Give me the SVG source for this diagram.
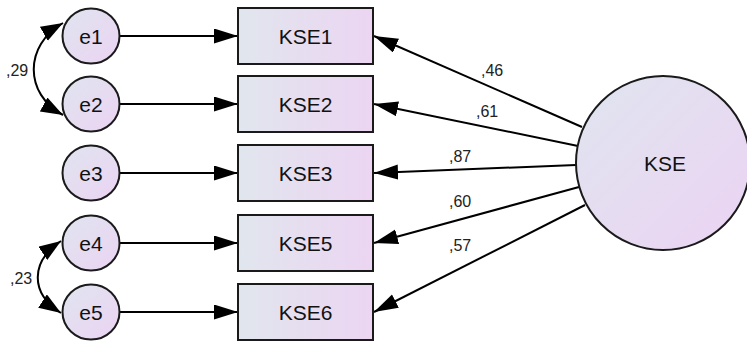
<svg xmlns="http://www.w3.org/2000/svg" width="747" height="345" viewBox="0 0 747 345">
<defs>
<linearGradient id="gRect" x1="0" y1="0" x2="1" y2="0">
<stop offset="0" stop-color="#e1e6ee"/>
<stop offset="1" stop-color="#ecd5f2"/>
</linearGradient>
<linearGradient id="gEll" x1="0" y1="0" x2="1" y2="1">
<stop offset="0" stop-color="#dfe5ef"/>
<stop offset="1" stop-color="#ecd3f3"/>
</linearGradient>
<marker id="arr" markerUnits="userSpaceOnUse" markerWidth="26" markerHeight="16" refX="24" refY="7.5" orient="auto">
<path d="M0,0 L24,7.5 L0,15 Z" fill="#000"/>
</marker>
<marker id="arrc" markerUnits="userSpaceOnUse" markerWidth="24" markerHeight="18" refX="22" refY="8" orient="auto-start-reverse">
<path d="M0,0 L22,8 L0,16 Z" fill="#000"/>
</marker>
<style>
.box{fill:url(#gRect);stroke:#1a1a1a;stroke-width:2}
.ell{fill:url(#gEll);stroke:#1a1a1a;stroke-width:2}
.lbl{font-family:"Liberation Sans",Arial,sans-serif;font-size:21px;fill:#111;text-anchor:middle}
.num{font-family:"Liberation Sans",Arial,sans-serif;font-size:16px;fill:#222}
.ln{fill:none;stroke:#000;stroke-width:2;marker-end:url(#arr)}
.cv{fill:none;stroke:#000;stroke-width:2;marker-start:url(#arrc);marker-end:url(#arrc)}
</style>
</defs>
<g id="connectors">
<line class="ln" x1="120" y1="36" x2="238" y2="36"/>
<line class="ln" x1="120" y1="104" x2="238" y2="104"/>
<line class="ln" x1="120" y1="173" x2="238" y2="173"/>
<line class="ln" x1="120" y1="243" x2="238" y2="243"/>
<line class="ln" x1="120" y1="312" x2="238" y2="312"/>
<line class="ln" x1="582" y1="127" x2="374" y2="36"/>
<line class="ln" x1="578" y1="146" x2="374" y2="104"/>
<line class="ln" x1="576" y1="165" x2="374" y2="173"/>
<line class="ln" x1="579" y1="187" x2="374" y2="243"/>
<line class="ln" x1="585" y1="205" x2="374" y2="312"/>
<path class="cv" d="M63,23 C24,45 24,94 63,115"/>
<path class="cv" d="M61,241 C30,262 30,293 61,313"/>
<text class="num" x="481" y="76">,46</text>
<text class="num" x="476" y="117">,61</text>
<text class="num" x="449" y="162">,87</text>
<text class="num" x="449" y="207">,60</text>
<text class="num" x="449" y="251">,57</text>
<text class="num" x="6" y="76">,29</text>
<text class="num" x="10" y="284">,23</text>
</g>
<g id="e1"><ellipse class="ell" cx="91" cy="36" rx="28.5" ry="27.5"/><text class="lbl" x="91" y="43.5">e1</text></g>
<g id="e2"><ellipse class="ell" cx="91" cy="104" rx="28.5" ry="27.5"/><text class="lbl" x="91" y="111.5">e2</text></g>
<g id="e3"><ellipse class="ell" cx="91" cy="173" rx="28.5" ry="27.5"/><text class="lbl" x="91" y="180.5">e3</text></g>
<g id="e4"><ellipse class="ell" cx="91" cy="243" rx="28.5" ry="27.5"/><text class="lbl" x="91" y="250.5">e4</text></g>
<g id="e5"><ellipse class="ell" cx="91" cy="312" rx="28.5" ry="27.5"/><text class="lbl" x="91" y="319.5">e5</text></g>
<g id="KSE1"><rect class="box" x="238" y="8" width="135" height="56"/><text class="lbl" x="305.5" y="43.5">KSE1</text></g>
<g id="KSE2"><rect class="box" x="238" y="76" width="135" height="56"/><text class="lbl" x="305.5" y="111.5">KSE2</text></g>
<g id="KSE3"><rect class="box" x="238" y="145" width="135" height="56"/><text class="lbl" x="305.5" y="180.5">KSE3</text></g>
<g id="KSE5"><rect class="box" x="238" y="215" width="135" height="56"/><text class="lbl" x="305.5" y="250.5">KSE5</text></g>
<g id="KSE6"><rect class="box" x="238" y="284" width="135" height="56"/><text class="lbl" x="305.5" y="319.5">KSE6</text></g>
<g id="KSE"><circle class="ell" cx="663" cy="163" r="87"/><text class="lbl" x="665" y="170.5">KSE</text></g>
</svg>
